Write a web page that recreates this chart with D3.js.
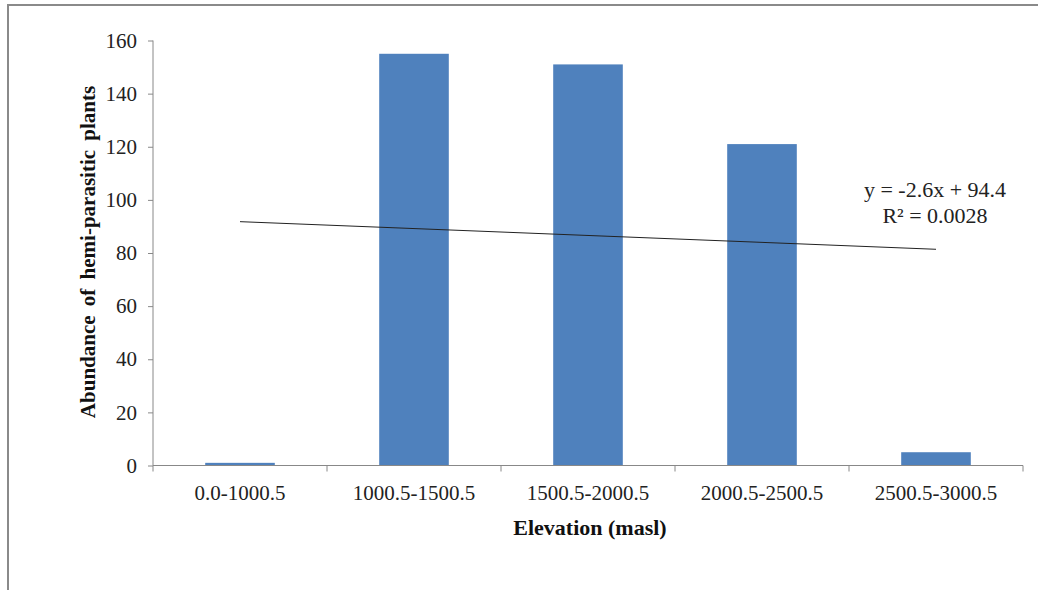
<!DOCTYPE html>
<html><head><meta charset="utf-8">
<script src="https://cdn.jsdelivr.net/npm/d3@7"></script>
<style>body{margin:0;background:#fff}svg{display:block}</style>
</head><body><svg id="c" width="1038" height="590"></svg>
<script>
const categories = ["0.0-1000.5","1000.5-1500.5","1500.5-2000.5","2000.5-2500.5","2500.5-3000.5"];
const values = [1,155,151,121,5];
const yTicks = [0,20,40,60,80,100,120,140,160];
const trend = {slope:-2.6, intercept:94.4, eq:"y = -2.6x + 94.4", r2:"R² = 0.0028"};

const svg = d3.select("#c");
const font = "'Liberation Serif', 'Times New Roman', serif";
// frame
svg.append("line").attr("x1",7.5).attr("x2",1038).attr("y1",5).attr("y2",5).attr("stroke","#8a8a8a").attr("stroke-width",2);
svg.append("line").attr("x1",8).attr("x2",8).attr("y1",4).attr("y2",590).attr("stroke","#8a8a8a").attr("stroke-width",2);

const L=153, R=1023, T=40.5, B=465.5;
const x = d3.scaleBand().domain(categories).range([L,R]).paddingInner(0.6).paddingOuter(0.3);
const y = d3.scaleLinear().domain([0,160]).range([B,T]);

// bars
svg.append("g").selectAll("rect").data(values).join("rect")
  .attr("x",(d,i)=>x(categories[i])).attr("width",x.bandwidth())
  .attr("y",d=>y(d)).attr("height",d=>B-y(d)).attr("fill","#4f81bd");

// y axis
const ya = svg.append("g").attr("transform",`translate(${L},0)`)
  .call(d3.axisLeft(y).tickValues(yTicks).tickSize(5).tickPadding(11));
ya.select(".domain").attr("stroke","#888").attr("d",`M0,${T}V${B}`);
ya.selectAll(".tick line").attr("stroke","#888");
ya.selectAll("text").attr("font-family",font).attr("font-size",21).attr("fill","#222");

// x axis
const xa = svg.append("g").attr("transform",`translate(0,${B})`)
  .call(d3.axisBottom(x).tickSize(0).tickPadding(20));
xa.select(".domain").attr("stroke","#888").attr("d",`M${L},0H${R}`);
xa.selectAll("text").attr("font-family",font).attr("font-size",21).attr("fill","#222");
// category boundary ticks
const step = x.step();
svg.append("g").selectAll("line").data(d3.range(categories.length+1)).join("line")
  .attr("x1",i=>x(categories[0]) - (step - x.bandwidth())/2 + i*step)
  .attr("x2",i=>x(categories[0]) - (step - x.bandwidth())/2 + i*step)
  .attr("y1",B).attr("y2",B+6).attr("stroke","#888");

// trendline
const cx = i=>x(categories[i])+x.bandwidth()/2;
const tx0=1, tx1=categories.length;
svg.append("line").attr("x1",cx(0)).attr("x2",cx(categories.length-1))
  .attr("y1",y(trend.slope*tx0+trend.intercept)).attr("y2",y(trend.slope*tx1+trend.intercept))
  .attr("stroke","#222").attr("stroke-width",1);
svg.append("text").attr("x",935).attr("y",197).attr("text-anchor","middle")
  .attr("font-family",font).attr("font-size",22).attr("fill","#222").text(trend.eq);
svg.append("text").attr("x",935).attr("y",223).attr("text-anchor","middle")
  .attr("font-family",font).attr("font-size",22).attr("fill","#222").text(trend.r2);

// titles
svg.append("text").attr("x",590).attr("y",535).attr("text-anchor","middle")
  .attr("font-family",font).attr("font-size",22).attr("font-weight","bold").attr("fill","#111").text("Elevation (masl)");
svg.append("text").attr("transform",`translate(95,252) rotate(-90)`).attr("text-anchor","middle")
  .attr("font-family",font).attr("font-size",21).attr("font-weight","bold").attr("fill","#111")
  .attr("word-spacing",4).text("Abundance of hemi-parasitic plants");
</script></body></html>
